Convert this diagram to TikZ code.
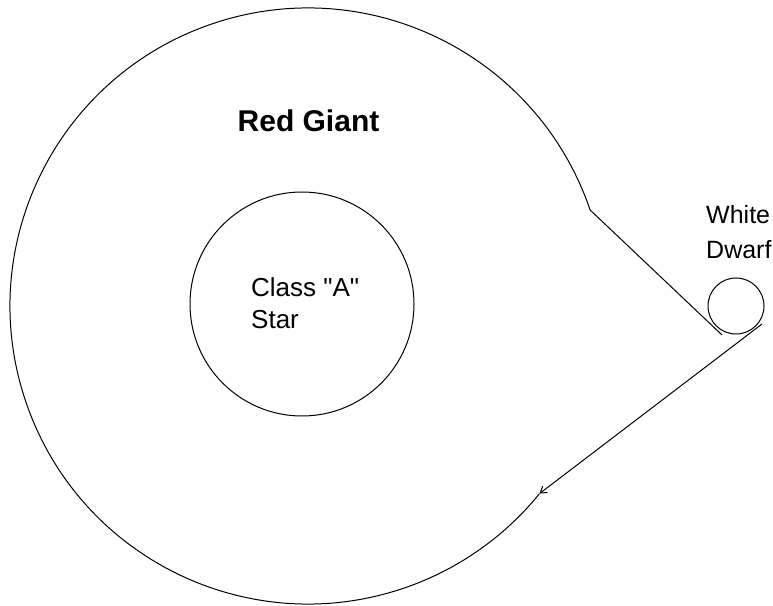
\documentclass[tikz,border=0pt]{standalone}
\usepackage{fontspec}
\setmainfont{Liberation Sans}
\usepackage{tikz}
\usetikzlibrary{arrows.meta}

\begin{document}
\begin{tikzpicture}[
  x=1pt, y=1pt,
  star/.style={circle, draw, line width=1pt, inner sep=0pt},
  txt/.style={inner sep=0pt, align=left},
  flow/.style={line width=1pt},
]
  % Constants
  \def\R{298}     % red giant radius
  \def\aout{18.8} % angle where the stream leaves
  \def\ain{321}   % angle where it comes back

  \useasboundingbox (0,0) rectangle (773,605);

  % Red giant envelope
  \coordinate (rg) at (308,299);
  \path (rg) ++(\aout:\R) coordinate (rgout);
  \draw[flow] (rgout) arc[start angle=\aout, end angle=\ain, radius=\R] coordinate (rgin);

  % Stars
  \node[star, minimum size=224pt] (astar) at (302,301) {};
  \node[star, minimum size=56pt] (wdwarf) at (736,299) {};

  % Stream to the white dwarf and back
  \coordinate (wdin) at (722,270);
  \coordinate (wdout) at (762,281);
  \draw[flow] (rgout) -- (wdin);
  \draw[flow, -{Straight Barb[length=6pt, width=8pt]}] (wdout) -- (rgin);

  % Labels
  \node[txt, font=\bfseries\fontsize{30}{36}\selectfont, anchor=base] (rglabel) at (308.5,473) {Red Giant};
  \node[txt, font=\fontsize{26}{32}\selectfont, anchor=north west] (aslabel) at (251,328) {Class \textquotedbl A\textquotedbl\\Star};
  \node[txt, font=\fontsize{25}{35}\selectfont, anchor=north west] (wdlabel) at (706,400) {White\\Dwarf};
\end{tikzpicture}
\end{document}
